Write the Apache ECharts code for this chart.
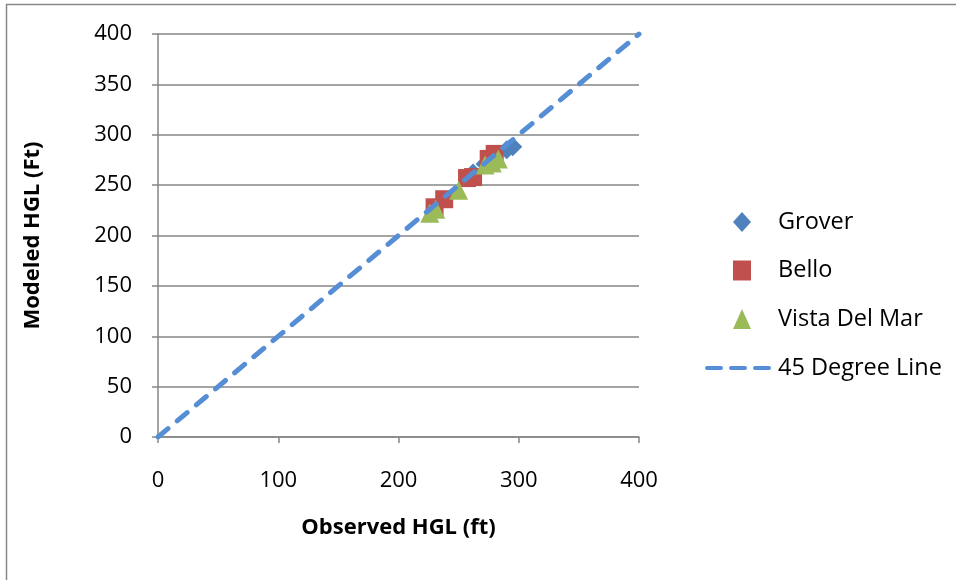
<!DOCTYPE html>
<html><head><meta charset="utf-8">
<script src="https://cdn.jsdelivr.net/npm/echarts@6/dist/echarts.min.js"></script>
<style>html,body{margin:0;padding:0;background:#fff}#c{width:956px;height:580px}</style>
</head><body><div id="c"></div>
<script>
const xTicks = [0, 100, 200, 300, 400];
const yTicks = [0, 50, 100, 150, 200, 250, 300, 350, 400];
const grover = [[295, 288], [290, 285], [272, 271], [262, 262]];
const bello = [[230, 228], [238, 236], [257, 257], [262, 258], [275, 276], [280, 281]];
const vista = [[226, 222], [231, 226], [250, 245], [272, 270], [278, 272], [283, 276]];
const line45 = [[0, 0], [400, 400]];
const seriesNames = ['Grover', 'Bello', 'Vista Del Mar', '45 Degree Line'];

const FONT = 'Open Sans';
const LINE_COLOR = '#558ED5';
const chart = echarts.init(document.getElementById('c'));
chart.setOption({
  animation: false,
  textStyle: {fontFamily: FONT},
  graphic: [{type: 'rect', shape: {x: 6.5, y: 4.5, width: 1000, height: 1000}, style: {fill: 'none', stroke: '#888', lineWidth: 1.5}}],
  grid: {left: 158, right: 317, top: 34, bottom: 143},
  legend: [{
    data: seriesNames.slice(0, 3), orient: 'vertical', left: 728, top: 205,
    itemWidth: 18, itemHeight: 20, itemGap: 24.5,
    textStyle: {fontSize: 23.5, color: '#000', fontFamily: FONT, padding: [0, 0, 0, 22]}
  }, {
    data: [{name: seriesNames[3], icon: 'path://M2,0h14a2,2 0 0 1 0,4h-14a2,2 0 0 1 0,-4z M26,0h14a2,2 0 0 1 0,4h-14a2,2 0 0 1 0,-4z M50,0h14a2,2 0 0 1 0,4h-14a2,2 0 0 1 0,-4z'}],
    orient: 'vertical', left: 700, top: 351,
    itemWidth: 66, itemHeight: 5,
    textStyle: {fontSize: 23.5, color: '#000', fontFamily: FONT, padding: [0, 0, 0, 2]}
  }],
  xAxis: {
    type: 'value', min: xTicks[0], max: xTicks[xTicks.length - 1], interval: 100,
    name: 'Observed HGL (ft)', nameLocation: 'middle', nameGap: 80,
    nameTextStyle: {fontSize: 22, fontWeight: 'bold', color: '#000'},
    axisLine: {lineStyle: {color: '#868686', width: 1.5}},
    axisTick: {show: true, length: 6, lineStyle: {color: '#868686', width: 1.5}},
    axisLabel: {fontSize: 22, color: '#000', margin: 33},
    splitLine: {show: false}
  },
  yAxis: {
    type: 'value', min: yTicks[0], max: yTicks[yTicks.length - 1], interval: 50,
    name: 'Modeled HGL (Ft)', nameLocation: 'middle', nameGap: 114,
    nameTextStyle: {fontSize: 22, fontWeight: 'bold', color: '#000'},
    axisLine: {show: true, lineStyle: {color: '#868686', width: 1.5}},
    axisTick: {show: true, length: 6, lineStyle: {color: '#868686', width: 1.5}},
    axisLabel: {fontSize: 22, color: '#000', margin: 26},
    splitLine: {lineStyle: {color: '#868686', width: 1.5}}
  },
  series: [
    {name: seriesNames[0], type: 'scatter', data: grover, symbol: 'diamond', symbolSize: 19, itemStyle: {color: '#4F81BD', opacity: 1}},
    {name: seriesNames[1], type: 'scatter', data: bello, symbol: 'rect', symbolSize: 18, itemStyle: {color: '#C0504D', opacity: 1}},
    {name: seriesNames[2], type: 'scatter', data: vista, symbol: 'triangle', symbolSize: 19, itemStyle: {color: '#9BBB59', opacity: 1}},
    {name: seriesNames[3], type: 'line', data: line45, symbol: 'none', z: 5,
     lineStyle: {color: LINE_COLOR, width: 5, type: [13, 12], cap: 'round'}, itemStyle: {color: LINE_COLOR}}
  ]
});
</script></body></html>
